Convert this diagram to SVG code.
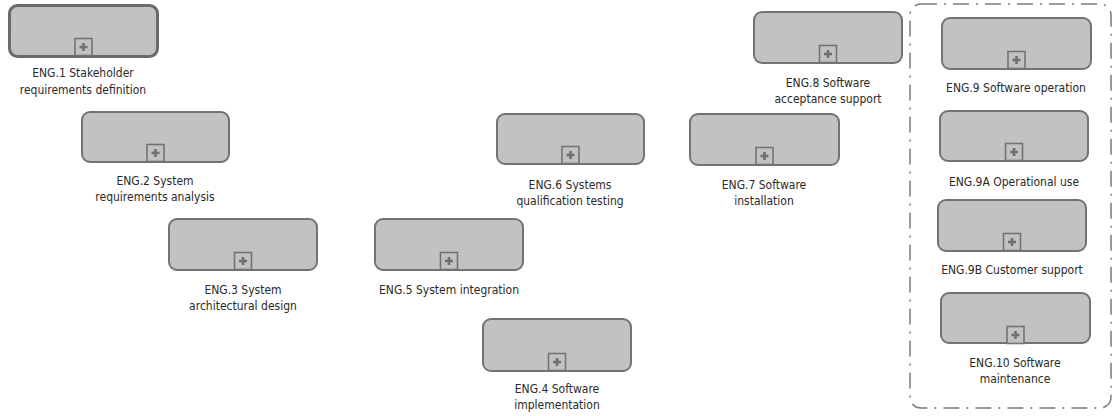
<svg xmlns="http://www.w3.org/2000/svg" width="1120" height="416" viewBox="0 0 1120 416">
  <defs>
    <style>
      .box { fill: #c2c2c2; stroke: #737373; stroke-width: 2; }
      .box.start { stroke: #6a6a6a; stroke-width: 3; }
      .mk { fill: #c2c2c2; stroke: #737373; stroke-width: 1.6; }
      .plus { fill: #707070; }
      .lbl { font-family: "DejaVu Sans Condensed", "DejaVu Sans", sans-serif; font-stretch: condensed; font-size: 12px; fill: #2a2a2a; text-anchor: middle; }
      .grp { fill: none; stroke: #7a7a7a; stroke-width: 1.5; stroke-dasharray: 16 7 2 7; }
    </style>
    <!-- collapsed sub-process marker, origin at marker centre -->
    <g id="marker">
      <rect class="mk" x="-8.5" y="-8.5" width="17" height="17"/>
      <rect class="plus" x="-4" y="-1.3" width="8" height="2.6"/>
      <rect class="plus" x="-1.3" y="-4" width="2.6" height="8"/>
    </g>
  </defs>

  <rect width="1120" height="416" fill="#ffffff"/>

  <!-- operation / maintenance group -->
  <g id="group-operation">
    <rect class="grp" x="910" y="4" width="201" height="404" rx="11" ry="11"/>
  </g>

  <g id="connectors"></g>

  <g id="eng1">
    <rect class="box start" x="9.5" y="5.5" width="148" height="51" rx="8"/>
    <use href="#marker" x="83.5" y="47"/>
    <text class="lbl" x="83" y="77">ENG.1 Stakeholder</text>
    <text class="lbl" x="83" y="94">requirements definition</text>
  </g>

  <g id="eng2">
    <rect class="box" x="82" y="112" width="147" height="50" rx="8"/>
    <use href="#marker" x="155.5" y="153"/>
    <text class="lbl" x="155" y="185">ENG.2 System</text>
    <text class="lbl" x="155" y="201">requirements analysis</text>
  </g>

  <g id="eng3">
    <rect class="box" x="169" y="219" width="148" height="51" rx="8"/>
    <use href="#marker" x="243" y="261"/>
    <text class="lbl" x="243" y="294">ENG.3 System</text>
    <text class="lbl" x="243" y="310">architectural design</text>
  </g>

  <g id="eng5">
    <rect class="box" x="375" y="219" width="148" height="51" rx="8"/>
    <use href="#marker" x="449" y="261"/>
    <text class="lbl" x="449" y="294">ENG.5 System integration</text>
  </g>

  <g id="eng4">
    <rect class="box" x="483" y="319" width="148" height="52" rx="8"/>
    <use href="#marker" x="557" y="362"/>
    <text class="lbl" x="557" y="393">ENG.4 Software</text>
    <text class="lbl" x="557" y="409">implementation</text>
  </g>

  <g id="eng6">
    <rect class="box" x="497" y="114" width="147" height="50" rx="8"/>
    <use href="#marker" x="570.5" y="155"/>
    <text class="lbl" x="570" y="189">ENG.6 Systems</text>
    <text class="lbl" x="570" y="205">qualification testing</text>
  </g>

  <g id="eng7">
    <rect class="box" x="690" y="114" width="149" height="51" rx="8"/>
    <use href="#marker" x="764.5" y="156"/>
    <text class="lbl" x="764" y="189">ENG.7 Software</text>
    <text class="lbl" x="764" y="205">installation</text>
  </g>

  <g id="eng8">
    <rect class="box" x="754" y="12" width="148" height="51" rx="8"/>
    <use href="#marker" x="828" y="54"/>
    <text class="lbl" x="828" y="87">ENG.8 Software</text>
    <text class="lbl" x="828" y="103">acceptance support</text>
  </g>

  <g id="eng9">
    <rect class="box" x="942" y="18" width="149" height="51" rx="8"/>
    <use href="#marker" x="1016.5" y="60"/>
    <text class="lbl" x="1016" y="92">ENG.9 Software operation</text>
  </g>

  <g id="eng9a">
    <rect class="box" x="940" y="111" width="148" height="50" rx="8"/>
    <use href="#marker" x="1014" y="152"/>
    <text class="lbl" x="1014" y="186">ENG.9A Operational use</text>
  </g>

  <g id="eng9b">
    <rect class="box" x="938" y="200" width="148" height="51" rx="8"/>
    <use href="#marker" x="1012" y="242"/>
    <text class="lbl" x="1012" y="274">ENG.9B Customer support</text>
  </g>

  <g id="eng10">
    <rect class="box" x="941" y="293" width="149" height="50" rx="8"/>
    <use href="#marker" x="1015.5" y="335"/>
    <text class="lbl" x="1015" y="367">ENG.10 Software</text>
    <text class="lbl" x="1015" y="383">maintenance</text>
  </g>
</svg>
